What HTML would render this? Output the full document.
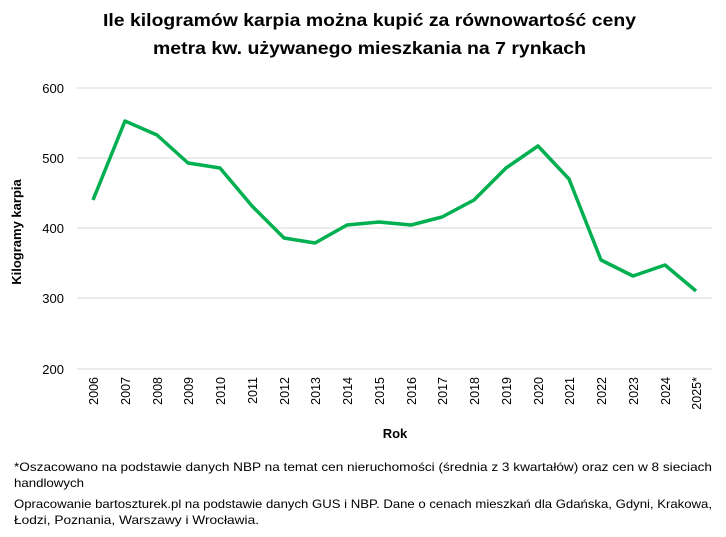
<!DOCTYPE html>
<html><head><meta charset="utf-8"><style>
body{margin:0;background:#fff;width:726px;height:532px;overflow:hidden;font-family:"Liberation Sans",sans-serif}
</style></head><body>
<svg width="726" height="532" xmlns="http://www.w3.org/2000/svg" font-family="Liberation Sans, sans-serif">
<text x="103" y="26" font-size="17.5" font-weight="bold" fill="#000" textLength="533" lengthAdjust="spacingAndGlyphs">Ile kilogramów karpia można kupić za równowartość ceny</text>
<text x="153" y="54" font-size="17.5" font-weight="bold" fill="#000" textLength="433" lengthAdjust="spacingAndGlyphs">metra kw. używanego mieszkania na 7 rynkach</text>
<g stroke="#d9d9d9" stroke-width="1">
<line x1="77" x2="712" y1="88" y2="88"/><line x1="77" x2="712" y1="158" y2="158"/>
<line x1="77" x2="712" y1="228" y2="228"/><line x1="77" x2="712" y1="298" y2="298"/>
<line x1="77" x2="712" y1="369" y2="369"/></g>
<g font-size="13" text-anchor="end" fill="#000">
<text x="64" y="93">600</text><text x="64" y="163">500</text><text x="64" y="233">400</text><text x="64" y="303">300</text><text x="64" y="374">200</text></g>
<text transform="translate(21,232) rotate(-90)" font-size="13" font-weight="bold" text-anchor="middle">Kilogramy karpia</text>
<polyline fill="none" stroke="#00b050" stroke-width="3.5" stroke-linejoin="round" points="93,200 125,121 157,135 188,163 220,168 252,206 284,238 315,243 347,225 379,222 411,225 442,217 474,200 506,168 538,146 569,179 601,260 633,276 665,265 696,291"/>
<g font-size="12.5" text-anchor="end" fill="#000">
<text transform="translate(98,377) rotate(-90)">2006</text>
<text transform="translate(130,377) rotate(-90)">2007</text>
<text transform="translate(162,377) rotate(-90)">2008</text>
<text transform="translate(193,377) rotate(-90)">2009</text>
<text transform="translate(225,377) rotate(-90)">2010</text>
<text transform="translate(257,377) rotate(-90)">2011</text>
<text transform="translate(289,377) rotate(-90)">2012</text>
<text transform="translate(320,377) rotate(-90)">2013</text>
<text transform="translate(352,377) rotate(-90)">2014</text>
<text transform="translate(384,377) rotate(-90)">2015</text>
<text transform="translate(416,377) rotate(-90)">2016</text>
<text transform="translate(447,377) rotate(-90)">2017</text>
<text transform="translate(479,377) rotate(-90)">2018</text>
<text transform="translate(511,377) rotate(-90)">2019</text>
<text transform="translate(543,377) rotate(-90)">2020</text>
<text transform="translate(574,377) rotate(-90)">2021</text>
<text transform="translate(606,377) rotate(-90)">2022</text>
<text transform="translate(638,377) rotate(-90)">2023</text>
<text transform="translate(670,377) rotate(-90)">2024</text>
<text transform="translate(701,377) rotate(-90)">2025*</text>
</g>
<text x="395" y="438" font-size="13" font-weight="bold" text-anchor="middle">Rok</text>
<g font-size="12" fill="#000">
<text x="14" y="471" textLength="698" lengthAdjust="spacingAndGlyphs">*Oszacowano na podstawie danych NBP na temat cen nieruchomości (średnia z 3 kwartałów) oraz cen w 8 sieciach</text>
<text x="14" y="487" textLength="70" lengthAdjust="spacingAndGlyphs">handlowych</text>
<text x="14" y="508" textLength="698" lengthAdjust="spacingAndGlyphs">Opracowanie bartoszturek.pl na podstawie danych GUS i NBP. Dane o cenach mieszkań dla Gdańska, Gdyni, Krakowa,</text>
<text x="14" y="524" textLength="245" lengthAdjust="spacingAndGlyphs">Łodzi, Poznania, Warszawy i Wrocławia.</text>
</g>
</svg>
</body></html>
